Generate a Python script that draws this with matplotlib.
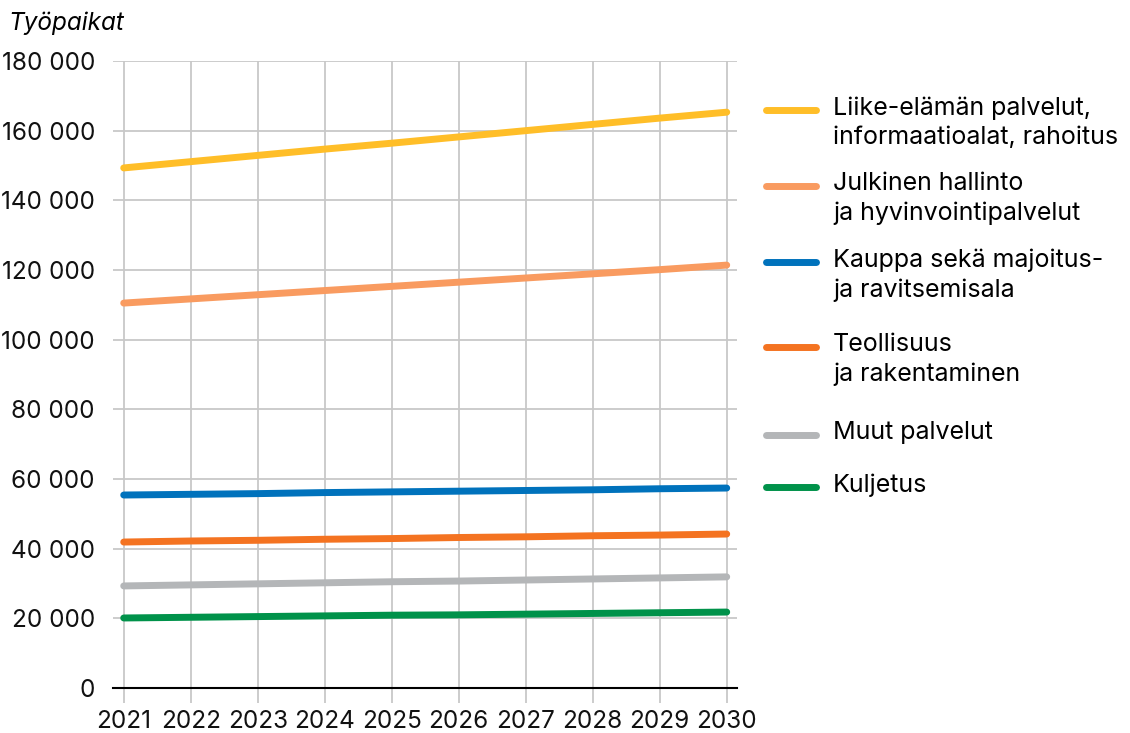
import matplotlib.pyplot as plt
from matplotlib.lines import Line2D

plt.rcParams['font.family'] = ['Inter', 'DejaVu Sans']

years = [2021, 2022, 2023, 2024, 2025, 2026, 2027, 2028, 2029, 2030]

liike = [149300, 151100, 152900, 154700, 156400, 158200, 160000, 161800, 163600, 165300]
julkinen = [110500, 111700, 112900, 114100, 115300, 116500, 117700, 118900, 120100, 121400]
kauppa = [55400, 55600, 55800, 56100, 56300, 56500, 56700, 56900, 57200, 57400]
teollisuus = [41900, 42200, 42400, 42700, 42900, 43200, 43400, 43700, 43900, 44200]
muut = [29300, 29600, 29900, 30200, 30500, 30700, 31000, 31300, 31600, 31900]
kuljetus = [20100, 20300, 20500, 20700, 20900, 21000, 21200, 21400, 21600, 21800]

series = [liike, julkinen, kauppa, teollisuus, muut, kuljetus]
labels = ['Liike-elämän palvelut,\ninformaatioalat, rahoitus',
          'Julkinen hallinto\nja hyvinvointipalvelut',
          'Kauppa sekä majoitus-\nja ravitsemisala',
          'Teollisuus\nja rakentaminen',
          'Muut palvelut',
          'Kuljetus']
colors = ['#FFBE28', '#F99B60', '#0072BC', '#F47321', '#B4B6B8', '#00924A']

yticks = [0, 20000, 40000, 60000, 80000, 100000, 120000, 140000, 160000, 180000]
ytick_labels = ['0', '20 000', '40 000', '60 000', '80 000', '100 000',
                '120 000', '140 000', '160 000', '180 000']

fs = 17.5

fig = plt.figure(figsize=(11.3, 7.33), dpi=100)
ax = fig.add_axes([0.1, 0.0614, 0.552, 0.8554])

for vals, c in zip(series, colors):
    ax.plot(years, vals, color=c, lw=5, solid_capstyle='round', zorder=3)

ax.set_xlim(2020.84, 2030.15)
ax.set_ylim(0, 180000)
ax.set_xticks(years)
ax.set_yticks(yticks)
ax.set_yticklabels(ytick_labels)
ax.grid(True, color='#C8C8C8', lw=1.3)
ax.set_axisbelow(True)
for s in ['top', 'right', 'left']:
    ax.spines[s].set_visible(False)
ax.spines['bottom'].set_color('black')
ax.spines['bottom'].set_linewidth(1.5)
ax.spines['bottom'].set_zorder(4)
ax.tick_params(axis='both', labelsize=fs, labelcolor='#111111')
ax.tick_params(axis='y', length=0, pad=13)
ax.tick_params(axis='x', length=11, width=1.3, color='#C8C8C8', pad=5)

fig.text(0.007, 0.968, 'Työpaikat', fontsize=fs, style='italic', va='center', ha='left')

# legend drawn by hand so the handle sits at the first text line
leg_y = [110, 186, 262, 347, 435, 487]
for lab, c, yp in zip(labels, colors, leg_y):
    yf = 1 - yp / 733
    fig.add_artist(Line2D([766 / 1130, 816 / 1130], [yf, yf], color=c, lw=5,
                          solid_capstyle='round', transform=fig.transFigure))
    fig.text(833 / 1130, yf + 0.019, lab, fontsize=18, va='top', ha='left',
             linespacing=1.36)

fig.savefig('out.png', dpi=100)
